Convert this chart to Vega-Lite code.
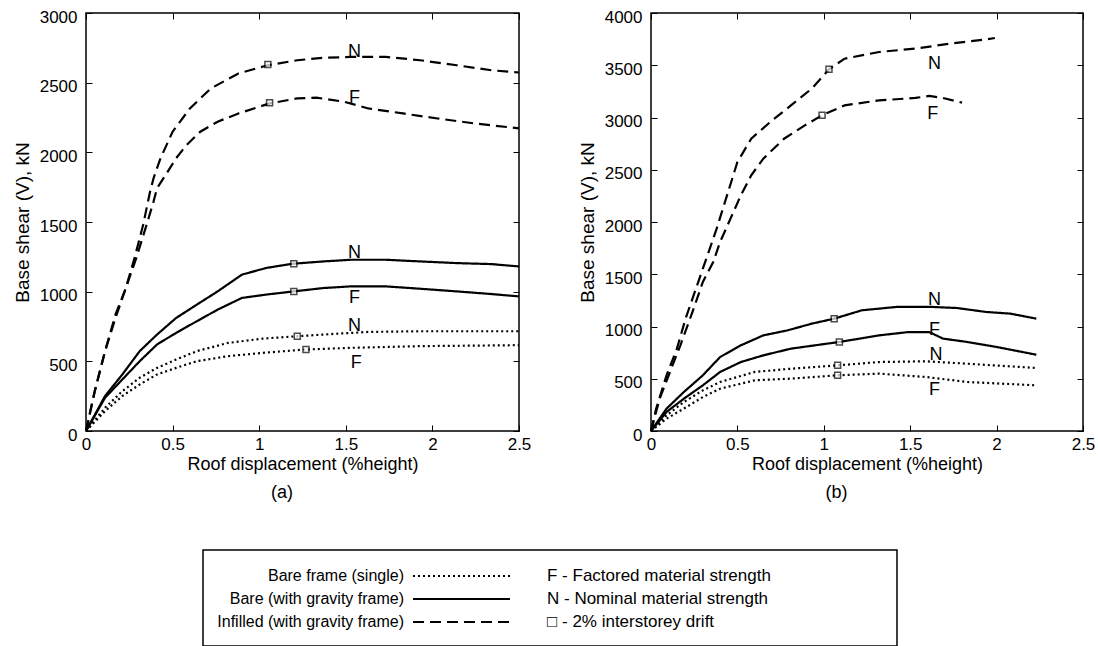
{
  "$schema": "https://vega.github.io/schema/vega-lite/v6.json",
  "background": "white",
  "padding": {"left": 12, "top": 7, "right": 0, "bottom": 0},
  "config": {
    "view": {"stroke": "black", "strokeWidth": 1.5},
    "font": "Liberation Sans",
    "axis": {"tickSize": -6, "domain": false, "grid": false, "labelFont": "Liberation Sans", "labelFontSize": 17, "labelColor": "black", "tickColor": "black", "tickWidth": 1, "titleFont": "Liberation Sans", "titleFontWeight": "normal", "titleColor": "black", "labelFlush": false, "labelOverlap": false},
    "axisX": {"titleFontSize": 18},
    "axisY": {"titleFontSize": 19},
    "title": {"font": "Liberation Sans", "fontSize": 18, "fontWeight": "normal", "color": "black"}
  },
  "datasets": {
    "curves": [
      {"panel":"a","frame":"Infilled (with gravity frame)","strength":"N","x":0,"y":0},
      {"panel":"a","frame":"Infilled (with gravity frame)","strength":"N","x":0.05,"y":286},
      {"panel":"a","frame":"Infilled (with gravity frame)","strength":"N","x":0.11,"y":573},
      {"panel":"a","frame":"Infilled (with gravity frame)","strength":"N","x":0.17,"y":835},
      {"panel":"a","frame":"Infilled (with gravity frame)","strength":"N","x":0.23,"y":1026},
      {"panel":"a","frame":"Infilled (with gravity frame)","strength":"N","x":0.28,"y":1241},
      {"panel":"a","frame":"Infilled (with gravity frame)","strength":"N","x":0.33,"y":1480},
      {"panel":"a","frame":"Infilled (with gravity frame)","strength":"N","x":0.37,"y":1718},
      {"panel":"a","frame":"Infilled (with gravity frame)","strength":"N","x":0.39,"y":1814},
      {"panel":"a","frame":"Infilled (with gravity frame)","strength":"N","x":0.43,"y":1957},
      {"panel":"a","frame":"Infilled (with gravity frame)","strength":"N","x":0.5,"y":2148},
      {"panel":"a","frame":"Infilled (with gravity frame)","strength":"N","x":0.6,"y":2315},
      {"panel":"a","frame":"Infilled (with gravity frame)","strength":"N","x":0.72,"y":2458},
      {"panel":"a","frame":"Infilled (with gravity frame)","strength":"N","x":0.88,"y":2566},
      {"panel":"a","frame":"Infilled (with gravity frame)","strength":"N","x":1.05,"y":2625},
      {"panel":"a","frame":"Infilled (with gravity frame)","strength":"N","x":1.22,"y":2661},
      {"panel":"a","frame":"Infilled (with gravity frame)","strength":"N","x":1.37,"y":2678},
      {"panel":"a","frame":"Infilled (with gravity frame)","strength":"N","x":1.53,"y":2685},
      {"panel":"a","frame":"Infilled (with gravity frame)","strength":"N","x":1.73,"y":2685},
      {"panel":"a","frame":"Infilled (with gravity frame)","strength":"N","x":1.93,"y":2661},
      {"panel":"a","frame":"Infilled (with gravity frame)","strength":"N","x":2.14,"y":2625},
      {"panel":"a","frame":"Infilled (with gravity frame)","strength":"N","x":2.34,"y":2589},
      {"panel":"a","frame":"Infilled (with gravity frame)","strength":"N","x":2.5,"y":2573},

      {"panel":"a","frame":"Infilled (with gravity frame)","strength":"F","x":0,"y":0},
      {"panel":"a","frame":"Infilled (with gravity frame)","strength":"F","x":0.05,"y":280},
      {"panel":"a","frame":"Infilled (with gravity frame)","strength":"F","x":0.11,"y":573},
      {"panel":"a","frame":"Infilled (with gravity frame)","strength":"F","x":0.17,"y":810},
      {"panel":"a","frame":"Infilled (with gravity frame)","strength":"F","x":0.23,"y":1026},
      {"panel":"a","frame":"Infilled (with gravity frame)","strength":"F","x":0.29,"y":1241},
      {"panel":"a","frame":"Infilled (with gravity frame)","strength":"F","x":0.35,"y":1480},
      {"panel":"a","frame":"Infilled (with gravity frame)","strength":"F","x":0.39,"y":1647},
      {"panel":"a","frame":"Infilled (with gravity frame)","strength":"F","x":0.41,"y":1742},
      {"panel":"a","frame":"Infilled (with gravity frame)","strength":"F","x":0.46,"y":1838},
      {"panel":"a","frame":"Infilled (with gravity frame)","strength":"F","x":0.52,"y":1957},
      {"panel":"a","frame":"Infilled (with gravity frame)","strength":"F","x":0.58,"y":2052},
      {"panel":"a","frame":"Infilled (with gravity frame)","strength":"F","x":0.66,"y":2148},
      {"panel":"a","frame":"Infilled (with gravity frame)","strength":"F","x":0.76,"y":2220},
      {"panel":"a","frame":"Infilled (with gravity frame)","strength":"F","x":0.88,"y":2279},
      {"panel":"a","frame":"Infilled (with gravity frame)","strength":"F","x":1.06,"y":2351},
      {"panel":"a","frame":"Infilled (with gravity frame)","strength":"F","x":1.22,"y":2387},
      {"panel":"a","frame":"Infilled (with gravity frame)","strength":"F","x":1.33,"y":2393},
      {"panel":"a","frame":"Infilled (with gravity frame)","strength":"F","x":1.49,"y":2363},
      {"panel":"a","frame":"Infilled (with gravity frame)","strength":"F","x":1.63,"y":2315},
      {"panel":"a","frame":"Infilled (with gravity frame)","strength":"F","x":1.83,"y":2279},
      {"panel":"a","frame":"Infilled (with gravity frame)","strength":"F","x":2.03,"y":2243},
      {"panel":"a","frame":"Infilled (with gravity frame)","strength":"F","x":2.24,"y":2208},
      {"panel":"a","frame":"Infilled (with gravity frame)","strength":"F","x":2.5,"y":2172},

      {"panel":"a","frame":"Bare (with gravity frame)","strength":"N","x":0,"y":0},
      {"panel":"a","frame":"Bare (with gravity frame)","strength":"N","x":0.11,"y":251},
      {"panel":"a","frame":"Bare (with gravity frame)","strength":"N","x":0.21,"y":406},
      {"panel":"a","frame":"Bare (with gravity frame)","strength":"N","x":0.31,"y":573},
      {"panel":"a","frame":"Bare (with gravity frame)","strength":"N","x":0.41,"y":692},
      {"panel":"a","frame":"Bare (with gravity frame)","strength":"N","x":0.52,"y":811},
      {"panel":"a","frame":"Bare (with gravity frame)","strength":"N","x":0.64,"y":907},
      {"panel":"a","frame":"Bare (with gravity frame)","strength":"N","x":0.76,"y":1002},
      {"panel":"a","frame":"Bare (with gravity frame)","strength":"N","x":0.9,"y":1122},
      {"panel":"a","frame":"Bare (with gravity frame)","strength":"N","x":1.04,"y":1170},
      {"panel":"a","frame":"Bare (with gravity frame)","strength":"N","x":1.19,"y":1200},
      {"panel":"a","frame":"Bare (with gravity frame)","strength":"N","x":1.37,"y":1217},
      {"panel":"a","frame":"Bare (with gravity frame)","strength":"N","x":1.53,"y":1229},
      {"panel":"a","frame":"Bare (with gravity frame)","strength":"N","x":1.73,"y":1229},
      {"panel":"a","frame":"Bare (with gravity frame)","strength":"N","x":1.93,"y":1217},
      {"panel":"a","frame":"Bare (with gravity frame)","strength":"N","x":2.14,"y":1205},
      {"panel":"a","frame":"Bare (with gravity frame)","strength":"N","x":2.34,"y":1198},
      {"panel":"a","frame":"Bare (with gravity frame)","strength":"N","x":2.5,"y":1181},

      {"panel":"a","frame":"Bare (with gravity frame)","strength":"F","x":0,"y":0},
      {"panel":"a","frame":"Bare (with gravity frame)","strength":"F","x":0.11,"y":239},
      {"panel":"a","frame":"Bare (with gravity frame)","strength":"F","x":0.21,"y":370},
      {"panel":"a","frame":"Bare (with gravity frame)","strength":"F","x":0.31,"y":501},
      {"panel":"a","frame":"Bare (with gravity frame)","strength":"F","x":0.41,"y":621},
      {"panel":"a","frame":"Bare (with gravity frame)","strength":"F","x":0.52,"y":704},
      {"panel":"a","frame":"Bare (with gravity frame)","strength":"F","x":0.64,"y":788},
      {"panel":"a","frame":"Bare (with gravity frame)","strength":"F","x":0.76,"y":871},
      {"panel":"a","frame":"Bare (with gravity frame)","strength":"F","x":0.9,"y":955},
      {"panel":"a","frame":"Bare (with gravity frame)","strength":"F","x":1.04,"y":979},
      {"panel":"a","frame":"Bare (with gravity frame)","strength":"F","x":1.2,"y":1002},
      {"panel":"a","frame":"Bare (with gravity frame)","strength":"F","x":1.37,"y":1026},
      {"panel":"a","frame":"Bare (with gravity frame)","strength":"F","x":1.53,"y":1038},
      {"panel":"a","frame":"Bare (with gravity frame)","strength":"F","x":1.73,"y":1038},
      {"panel":"a","frame":"Bare (with gravity frame)","strength":"F","x":1.93,"y":1021},
      {"panel":"a","frame":"Bare (with gravity frame)","strength":"F","x":2.14,"y":1002},
      {"panel":"a","frame":"Bare (with gravity frame)","strength":"F","x":2.34,"y":983},
      {"panel":"a","frame":"Bare (with gravity frame)","strength":"F","x":2.5,"y":966},

      {"panel":"a","frame":"Bare frame (single)","strength":"N","x":0,"y":0},
      {"panel":"a","frame":"Bare frame (single)","strength":"N","x":0.11,"y":167},
      {"panel":"a","frame":"Bare frame (single)","strength":"N","x":0.21,"y":286},
      {"panel":"a","frame":"Bare frame (single)","strength":"N","x":0.31,"y":382},
      {"panel":"a","frame":"Bare frame (single)","strength":"N","x":0.41,"y":453},
      {"panel":"a","frame":"Bare frame (single)","strength":"N","x":0.52,"y":513},
      {"panel":"a","frame":"Bare frame (single)","strength":"N","x":0.64,"y":573},
      {"panel":"a","frame":"Bare frame (single)","strength":"N","x":0.82,"y":632},
      {"panel":"a","frame":"Bare frame (single)","strength":"N","x":1.02,"y":663},
      {"panel":"a","frame":"Bare frame (single)","strength":"N","x":1.22,"y":680},
      {"panel":"a","frame":"Bare frame (single)","strength":"N","x":1.43,"y":697},
      {"panel":"a","frame":"Bare frame (single)","strength":"N","x":1.63,"y":711},
      {"panel":"a","frame":"Bare frame (single)","strength":"N","x":1.93,"y":716},
      {"panel":"a","frame":"Bare frame (single)","strength":"N","x":2.5,"y":716},

      {"panel":"a","frame":"Bare frame (single)","strength":"F","x":0,"y":0},
      {"panel":"a","frame":"Bare frame (single)","strength":"F","x":0.11,"y":143},
      {"panel":"a","frame":"Bare frame (single)","strength":"F","x":0.21,"y":251},
      {"panel":"a","frame":"Bare frame (single)","strength":"F","x":0.31,"y":334},
      {"panel":"a","frame":"Bare frame (single)","strength":"F","x":0.41,"y":406},
      {"panel":"a","frame":"Bare frame (single)","strength":"F","x":0.52,"y":453},
      {"panel":"a","frame":"Bare frame (single)","strength":"F","x":0.64,"y":501},
      {"panel":"a","frame":"Bare frame (single)","strength":"F","x":0.82,"y":537},
      {"panel":"a","frame":"Bare frame (single)","strength":"F","x":1.02,"y":561},
      {"panel":"a","frame":"Bare frame (single)","strength":"F","x":1.27,"y":585},
      {"panel":"a","frame":"Bare frame (single)","strength":"F","x":1.53,"y":597},
      {"panel":"a","frame":"Bare frame (single)","strength":"F","x":1.93,"y":609},
      {"panel":"a","frame":"Bare frame (single)","strength":"F","x":2.5,"y":616},

      {"panel":"b","frame":"Infilled (with gravity frame)","strength":"N","x":0,"y":0},
      {"panel":"b","frame":"Infilled (with gravity frame)","strength":"N","x":0.03,"y":214},
      {"panel":"b","frame":"Infilled (with gravity frame)","strength":"N","x":0.09,"y":533},
      {"panel":"b","frame":"Infilled (with gravity frame)","strength":"N","x":0.15,"y":788},
      {"panel":"b","frame":"Infilled (with gravity frame)","strength":"N","x":0.2,"y":1075},
      {"panel":"b","frame":"Infilled (with gravity frame)","strength":"N","x":0.26,"y":1362},
      {"panel":"b","frame":"Infilled (with gravity frame)","strength":"N","x":0.32,"y":1649},
      {"panel":"b","frame":"Infilled (with gravity frame)","strength":"N","x":0.38,"y":1936},
      {"panel":"b","frame":"Infilled (with gravity frame)","strength":"N","x":0.44,"y":2255},
      {"panel":"b","frame":"Infilled (with gravity frame)","strength":"N","x":0.5,"y":2574},
      {"panel":"b","frame":"Infilled (with gravity frame)","strength":"N","x":0.58,"y":2797},
      {"panel":"b","frame":"Infilled (with gravity frame)","strength":"N","x":0.69,"y":2957},
      {"panel":"b","frame":"Infilled (with gravity frame)","strength":"N","x":0.81,"y":3116},
      {"panel":"b","frame":"Infilled (with gravity frame)","strength":"N","x":0.93,"y":3276},
      {"panel":"b","frame":"Infilled (with gravity frame)","strength":"N","x":1.03,"y":3461},
      {"panel":"b","frame":"Infilled (with gravity frame)","strength":"N","x":1.12,"y":3563},
      {"panel":"b","frame":"Infilled (with gravity frame)","strength":"N","x":1.32,"y":3627},
      {"panel":"b","frame":"Infilled (with gravity frame)","strength":"N","x":1.53,"y":3659},
      {"panel":"b","frame":"Infilled (with gravity frame)","strength":"N","x":1.73,"y":3707},
      {"panel":"b","frame":"Infilled (with gravity frame)","strength":"N","x":1.94,"y":3748},
      {"panel":"b","frame":"Infilled (with gravity frame)","strength":"N","x":1.99,"y":3761},

      {"panel":"b","frame":"Infilled (with gravity frame)","strength":"F","x":0,"y":0},
      {"panel":"b","frame":"Infilled (with gravity frame)","strength":"F","x":0.05,"y":309},
      {"panel":"b","frame":"Infilled (with gravity frame)","strength":"F","x":0.11,"y":565},
      {"panel":"b","frame":"Infilled (with gravity frame)","strength":"F","x":0.17,"y":820},
      {"panel":"b","frame":"Infilled (with gravity frame)","strength":"F","x":0.24,"y":1139},
      {"panel":"b","frame":"Infilled (with gravity frame)","strength":"F","x":0.3,"y":1426},
      {"panel":"b","frame":"Infilled (with gravity frame)","strength":"F","x":0.36,"y":1617},
      {"panel":"b","frame":"Infilled (with gravity frame)","strength":"F","x":0.4,"y":1809},
      {"panel":"b","frame":"Infilled (with gravity frame)","strength":"F","x":0.46,"y":2032},
      {"panel":"b","frame":"Infilled (with gravity frame)","strength":"F","x":0.52,"y":2255},
      {"panel":"b","frame":"Infilled (with gravity frame)","strength":"F","x":0.58,"y":2447},
      {"panel":"b","frame":"Infilled (with gravity frame)","strength":"F","x":0.65,"y":2606},
      {"panel":"b","frame":"Infilled (with gravity frame)","strength":"F","x":0.77,"y":2797},
      {"panel":"b","frame":"Infilled (with gravity frame)","strength":"F","x":0.89,"y":2925},
      {"panel":"b","frame":"Infilled (with gravity frame)","strength":"F","x":0.99,"y":3021},
      {"panel":"b","frame":"Infilled (with gravity frame)","strength":"F","x":1.12,"y":3116},
      {"panel":"b","frame":"Infilled (with gravity frame)","strength":"F","x":1.32,"y":3164},
      {"panel":"b","frame":"Infilled (with gravity frame)","strength":"F","x":1.53,"y":3187},
      {"panel":"b","frame":"Infilled (with gravity frame)","strength":"F","x":1.61,"y":3206},
      {"panel":"b","frame":"Infilled (with gravity frame)","strength":"F","x":1.69,"y":3187},
      {"panel":"b","frame":"Infilled (with gravity frame)","strength":"F","x":1.8,"y":3142},

      {"panel":"b","frame":"Bare (with gravity frame)","strength":"N","x":0,"y":0},
      {"panel":"b","frame":"Bare (with gravity frame)","strength":"N","x":0.09,"y":214},
      {"panel":"b","frame":"Bare (with gravity frame)","strength":"N","x":0.19,"y":373},
      {"panel":"b","frame":"Bare (with gravity frame)","strength":"N","x":0.3,"y":533},
      {"panel":"b","frame":"Bare (with gravity frame)","strength":"N","x":0.4,"y":708},
      {"panel":"b","frame":"Bare (with gravity frame)","strength":"N","x":0.52,"y":820},
      {"panel":"b","frame":"Bare (with gravity frame)","strength":"N","x":0.65,"y":915},
      {"panel":"b","frame":"Bare (with gravity frame)","strength":"N","x":0.79,"y":963},
      {"panel":"b","frame":"Bare (with gravity frame)","strength":"N","x":0.93,"y":1027},
      {"panel":"b","frame":"Bare (with gravity frame)","strength":"N","x":1.06,"y":1075},
      {"panel":"b","frame":"Bare (with gravity frame)","strength":"N","x":1.22,"y":1155},
      {"panel":"b","frame":"Bare (with gravity frame)","strength":"N","x":1.42,"y":1187},
      {"panel":"b","frame":"Bare (with gravity frame)","strength":"N","x":1.63,"y":1187},
      {"panel":"b","frame":"Bare (with gravity frame)","strength":"N","x":1.77,"y":1177},
      {"panel":"b","frame":"Bare (with gravity frame)","strength":"N","x":1.94,"y":1139},
      {"panel":"b","frame":"Bare (with gravity frame)","strength":"N","x":2.08,"y":1123},
      {"panel":"b","frame":"Bare (with gravity frame)","strength":"N","x":2.23,"y":1075},

      {"panel":"b","frame":"Bare (with gravity frame)","strength":"F","x":0,"y":0},
      {"panel":"b","frame":"Bare (with gravity frame)","strength":"F","x":0.09,"y":182},
      {"panel":"b","frame":"Bare (with gravity frame)","strength":"F","x":0.19,"y":309},
      {"panel":"b","frame":"Bare (with gravity frame)","strength":"F","x":0.3,"y":437},
      {"panel":"b","frame":"Bare (with gravity frame)","strength":"F","x":0.4,"y":565},
      {"panel":"b","frame":"Bare (with gravity frame)","strength":"F","x":0.52,"y":660},
      {"panel":"b","frame":"Bare (with gravity frame)","strength":"F","x":0.65,"y":724},
      {"panel":"b","frame":"Bare (with gravity frame)","strength":"F","x":0.81,"y":788},
      {"panel":"b","frame":"Bare (with gravity frame)","strength":"F","x":0.95,"y":820},
      {"panel":"b","frame":"Bare (with gravity frame)","strength":"F","x":1.09,"y":852},
      {"panel":"b","frame":"Bare (with gravity frame)","strength":"F","x":1.32,"y":915},
      {"panel":"b","frame":"Bare (with gravity frame)","strength":"F","x":1.49,"y":947},
      {"panel":"b","frame":"Bare (with gravity frame)","strength":"F","x":1.61,"y":947},
      {"panel":"b","frame":"Bare (with gravity frame)","strength":"F","x":1.69,"y":884},
      {"panel":"b","frame":"Bare (with gravity frame)","strength":"F","x":1.83,"y":852},
      {"panel":"b","frame":"Bare (with gravity frame)","strength":"F","x":2.0,"y":804},
      {"panel":"b","frame":"Bare (with gravity frame)","strength":"F","x":2.23,"y":730},

      {"panel":"b","frame":"Bare frame (single)","strength":"N","x":0,"y":0},
      {"panel":"b","frame":"Bare frame (single)","strength":"N","x":0.09,"y":150},
      {"panel":"b","frame":"Bare frame (single)","strength":"N","x":0.19,"y":277},
      {"panel":"b","frame":"Bare frame (single)","strength":"N","x":0.3,"y":389},
      {"panel":"b","frame":"Bare frame (single)","strength":"N","x":0.4,"y":469},
      {"panel":"b","frame":"Bare frame (single)","strength":"N","x":0.6,"y":565},
      {"panel":"b","frame":"Bare frame (single)","strength":"N","x":0.81,"y":596},
      {"panel":"b","frame":"Bare frame (single)","strength":"N","x":1.08,"y":628},
      {"panel":"b","frame":"Bare frame (single)","strength":"N","x":1.32,"y":660},
      {"panel":"b","frame":"Bare frame (single)","strength":"N","x":1.59,"y":667},
      {"panel":"b","frame":"Bare frame (single)","strength":"N","x":1.83,"y":644},
      {"panel":"b","frame":"Bare frame (single)","strength":"N","x":2.23,"y":603},

      {"panel":"b","frame":"Bare frame (single)","strength":"F","x":0,"y":0},
      {"panel":"b","frame":"Bare frame (single)","strength":"F","x":0.09,"y":118},
      {"panel":"b","frame":"Bare frame (single)","strength":"F","x":0.19,"y":214},
      {"panel":"b","frame":"Bare frame (single)","strength":"F","x":0.3,"y":325},
      {"panel":"b","frame":"Bare frame (single)","strength":"F","x":0.4,"y":405},
      {"panel":"b","frame":"Bare frame (single)","strength":"F","x":0.6,"y":485},
      {"panel":"b","frame":"Bare frame (single)","strength":"F","x":0.81,"y":501},
      {"panel":"b","frame":"Bare frame (single)","strength":"F","x":1.08,"y":533},
      {"panel":"b","frame":"Bare frame (single)","strength":"F","x":1.32,"y":549},
      {"panel":"b","frame":"Bare frame (single)","strength":"F","x":1.59,"y":517},
      {"panel":"b","frame":"Bare frame (single)","strength":"F","x":1.83,"y":469},
      {"panel":"b","frame":"Bare frame (single)","strength":"F","x":2.23,"y":437}
    ],
    "drift": [
      {"panel":"a","x":1.05,"y":2630},{"panel":"a","x":1.06,"y":2355},{"panel":"a","x":1.2,"y":1200},
      {"panel":"a","x":1.2,"y":1002},{"panel":"a","x":1.22,"y":680},{"panel":"a","x":1.27,"y":585},
      {"panel":"b","x":1.03,"y":3461},{"panel":"b","x":0.99,"y":3021},{"panel":"b","x":1.06,"y":1075},
      {"panel":"b","x":1.09,"y":852},{"panel":"b","x":1.08,"y":628},{"panel":"b","x":1.08,"y":533}
    ],
    "labels": [
      {"panel":"a","text":"N","x":1.55,"y":2721},{"panel":"a","text":"F","x":1.55,"y":2387},
      {"panel":"a","text":"N","x":1.55,"y":1277},{"panel":"a","text":"F","x":1.55,"y":955},
      {"panel":"a","text":"N","x":1.55,"y":752},{"panel":"a","text":"F","x":1.56,"y":489},
      {"panel":"b","text":"N","x":1.64,"y":3515},{"panel":"b","text":"F","x":1.63,"y":3037},
      {"panel":"b","text":"N","x":1.64,"y":1250},{"panel":"b","text":"F","x":1.64,"y":963},
      {"panel":"b","text":"N","x":1.65,"y":724},{"panel":"b","text":"F","x":1.64,"y":389}
    ],
    "legend": [
      {"type":"Bare frame (single)","key":"F - Factored material strength"},
      {"type":"Bare (with gravity frame)","key":"N - Nominal material strength"},
      {"type":"Infilled (with gravity frame)","key":"□ - 2% interstorey drift"}
    ]
  },
  "vconcat": [
    {
      "hconcat": [
        {
          "width": 433, "height": 418,
          "title": {"text": "(a)", "orient": "bottom", "anchor": "middle", "frame": "bounds", "offset": 11, "dx": 10},
          "layer": [
            {
              "data": {"name": "curves"},
              "transform": [{"filter": "datum.panel === 'a'"}],
              "mark": {"type": "line", "color": "black"},
              "encoding": {
                "x": {"field": "x", "type": "quantitative", "scale": {"domain": [0, 2.5], "nice": false}, "axis": {"orient": "bottom", "title": "Roof displacement (%height)", "values": [0, 0.5, 1, 1.5, 2, 2.5], "format": "~r", "labelPadding": 11, "titlePadding": 3}},
                "y": {"field": "y", "type": "quantitative", "scale": {"domain": [0, 3000], "nice": false}, "axis": {"orient": "left", "title": "Base shear (V), kN", "values": [0, 500, 1000, 1500, 2000, 2500, 3000], "format": "~r", "labelPadding": 15, "labelOffset": 4, "titlePadding": 7}},
                "detail": [{"field": "frame"}, {"field": "strength"}],
                "strokeDash": {"field": "frame", "type": "nominal", "scale": {"domain": ["Bare frame (single)", "Bare (with gravity frame)", "Infilled (with gravity frame)"], "range": [[2, 3], [1, 0], [11, 6]]}, "legend": null},
                "strokeWidth": {"field": "frame", "type": "nominal", "scale": {"domain": ["Bare frame (single)", "Bare (with gravity frame)", "Infilled (with gravity frame)"], "range": [2.2, 2.2, 2.5]}, "legend": null}
              }
            },
            {
              "data": {"name": "drift"},
              "transform": [{"filter": "datum.panel === 'a'"}],
              "mark": {"type": "square", "size": 36, "filled": true, "fill": "white", "stroke": "black", "strokeWidth": 1.5},
              "encoding": {
                "x": {"field": "x", "type": "quantitative", "axis": {"orient": "top", "labels": false, "title": null, "values": [0, 0.5, 1, 1.5, 2, 2.5]}},
                "y": {"field": "y", "type": "quantitative", "axis": {"orient": "right", "labels": false, "title": null, "values": [0, 500, 1000, 1500, 2000, 2500, 3000]}}
              }
            },
            {
              "data": {"name": "labels"},
              "transform": [{"filter": "datum.panel === 'a'"}],
              "mark": {"type": "text", "fontSize": 18, "font": "Liberation Sans", "color": "black"},
              "encoding": {
                "x": {"field": "x", "type": "quantitative", "axis": null},
                "y": {"field": "y", "type": "quantitative", "axis": null},
                "text": {"field": "text"}
              }
            }
          ]
        },
        {
          "width": 432, "height": 418,
          "title": {"text": "(b)", "orient": "bottom", "anchor": "middle", "frame": "bounds", "offset": 11},
          "layer": [
            {
              "data": {"name": "curves"},
              "transform": [{"filter": "datum.panel === 'b'"}],
              "mark": {"type": "line", "color": "black"},
              "encoding": {
                "x": {"field": "x", "type": "quantitative", "scale": {"domain": [0, 2.5], "nice": false}, "axis": {"orient": "bottom", "title": "Roof displacement (%height)", "values": [0, 0.5, 1, 1.5, 2, 2.5], "format": "~r", "labelPadding": 11, "titlePadding": 3}},
                "y": {"field": "y", "type": "quantitative", "scale": {"domain": [0, 4000], "nice": false}, "axis": {"orient": "left", "title": "Base shear (V), kN", "values": [0, 500, 1000, 1500, 2000, 2500, 3000, 3500, 4000], "format": "~r", "labelPadding": 15, "labelOffset": 4, "titlePadding": 7}},
                "detail": [{"field": "frame"}, {"field": "strength"}],
                "strokeDash": {"field": "frame", "type": "nominal", "scale": {"domain": ["Bare frame (single)", "Bare (with gravity frame)", "Infilled (with gravity frame)"], "range": [[2, 3], [1, 0], [11, 6]]}, "legend": null},
                "strokeWidth": {"field": "frame", "type": "nominal", "scale": {"domain": ["Bare frame (single)", "Bare (with gravity frame)", "Infilled (with gravity frame)"], "range": [2.2, 2.2, 2.5]}, "legend": null}
              }
            },
            {
              "data": {"name": "drift"},
              "transform": [{"filter": "datum.panel === 'b'"}],
              "mark": {"type": "square", "size": 36, "filled": true, "fill": "white", "stroke": "black", "strokeWidth": 1.5},
              "encoding": {
                "x": {"field": "x", "type": "quantitative", "axis": {"orient": "top", "labels": false, "title": null, "values": [0, 0.5, 1, 1.5, 2, 2.5]}},
                "y": {"field": "y", "type": "quantitative", "axis": {"orient": "right", "labels": false, "title": null, "values": [0, 500, 1000, 1500, 2000, 2500, 3000, 3500, 4000]}}
              }
            },
            {
              "data": {"name": "labels"},
              "transform": [{"filter": "datum.panel === 'b'"}],
              "mark": {"type": "text", "fontSize": 18, "font": "Liberation Sans", "color": "black"},
              "encoding": {
                "x": {"field": "x", "type": "quantitative", "axis": null},
                "y": {"field": "y", "type": "quantitative", "axis": null},
                "text": {"field": "text"}
              }
            }
          ]
        }
      ],
      "spacing": 45
    },
    {
      "width": 1000, "height": 96,
      "view": {"stroke": null},
      "resolve": {"scale": {"y": "independent"}},
      "layer": [
        {
          "data": {"values": [{}]},
          "mark": {"type": "rect", "filled": false, "stroke": "black", "strokeWidth": 1.5},
          "encoding": {
            "x": {"datum": 117, "type": "quantitative", "scale": {"domain": [0, 1000], "nice": false}, "axis": null},
            "x2": {"datum": 811},
            "y": {"datum": 0, "type": "quantitative", "scale": {"domain": [0, 1], "nice": false}, "axis": null},
            "y2": {"datum": 1}
          }
        },
        {
          "data": {"name": "legend"},
          "layer": [
            {
              "mark": {"type": "text", "align": "right", "fontSize": 16, "font": "Liberation Sans", "color": "black"},
              "encoding": {
                "x": {"datum": 318, "type": "quantitative", "axis": null},
                "y": {"field": "type", "type": "ordinal", "scale": {"type": "point", "domain": ["Bare frame (single)", "Bare (with gravity frame)", "Infilled (with gravity frame)"], "range": [26, 72], "padding": 0}, "axis": null},
                "text": {"field": "type"}
              }
            },
            {
              "mark": {"type": "rule", "color": "black"},
              "encoding": {
                "x": {"datum": 327, "type": "quantitative"},
                "x2": {"datum": 424},
                "y": {"field": "type", "type": "ordinal"},
                "strokeDash": {"field": "type", "type": "nominal", "scale": {"domain": ["Bare frame (single)", "Bare (with gravity frame)", "Infilled (with gravity frame)"], "range": [[2, 3], [1, 0], [11, 6]]}, "legend": null},
                "strokeWidth": {"field": "type", "type": "nominal", "scale": {"domain": ["Bare frame (single)", "Bare (with gravity frame)", "Infilled (with gravity frame)"], "range": [2.2, 2.2, 2.5]}, "legend": null}
              }
            },
            {
              "mark": {"type": "text", "align": "left", "fontSize": 17, "font": "Liberation Sans", "color": "black"},
              "encoding": {
                "x": {"datum": 461, "type": "quantitative"},
                "y": {"field": "type", "type": "ordinal"},
                "text": {"field": "key"}
              }
            }
          ]
        }
      ]
    }
  ],
  "spacing": 46
}
